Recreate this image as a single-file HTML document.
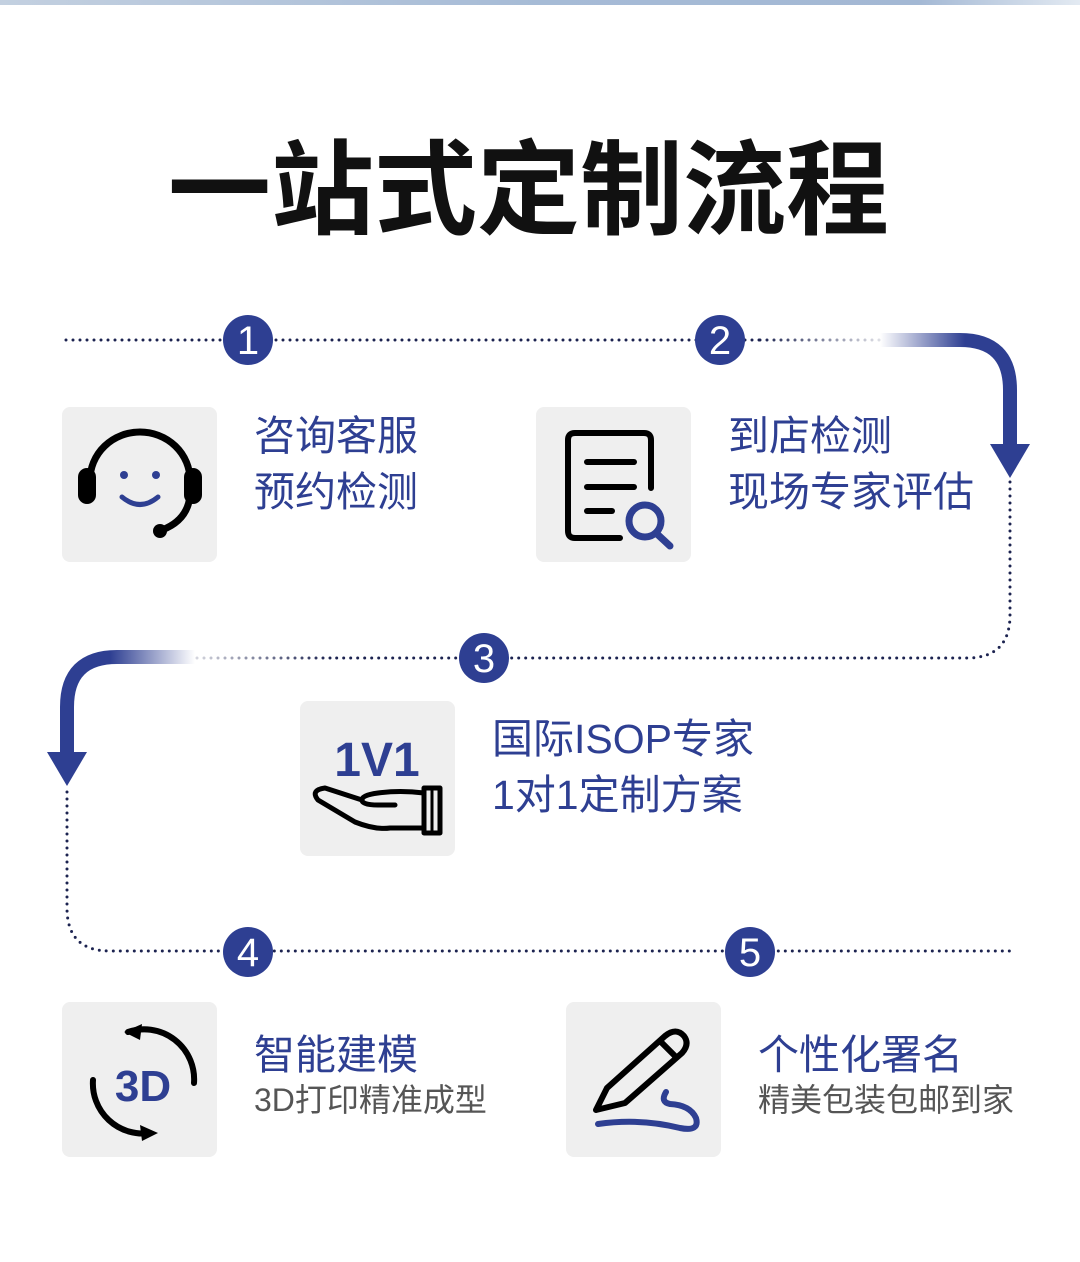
<!DOCTYPE html>
<html><head><meta charset="utf-8"><style>
html,body{margin:0;padding:0;background:#fff;}
body{width:1080px;height:1262px;position:relative;overflow:hidden;font-family:"Liberation Sans","Noto Sans CJK SC",sans-serif;}
.t{position:absolute;color:#2e3f92;font-size:41px;line-height:56px;white-space:nowrap;}
.g{color:#555;font-size:32px;line-height:40px;}
</style></head><body>
<svg width="1080" height="1262" style="position:absolute;left:0;top:0">
<defs>
<linearGradient id="tb" x1="0" x2="1"><stop offset="0" stop-color="#c3d0e0"/><stop offset="0.5" stop-color="#a6bbd6"/><stop offset="0.85" stop-color="#a3b8d4"/><stop offset="1" stop-color="#e3eaf2"/></linearGradient>
<linearGradient id="fr" gradientUnits="userSpaceOnUse" x1="880" x2="965" y1="0" y2="0"><stop offset="0" stop-color="#2e3f92" stop-opacity="0"/><stop offset="1" stop-color="#2e3f92"/></linearGradient>
<linearGradient id="fl" gradientUnits="userSpaceOnUse" x1="195" x2="110" y1="0" y2="0"><stop offset="0" stop-color="#2e3f92" stop-opacity="0"/><stop offset="1" stop-color="#2e3f92"/></linearGradient>
<linearGradient id="dr" gradientUnits="userSpaceOnUse" x1="760" x2="880" y1="0" y2="0"><stop offset="0" stop-color="#1c2350"/><stop offset="1" stop-color="#1c2350" stop-opacity="0.15"/></linearGradient>
<linearGradient id="dl" gradientUnits="userSpaceOnUse" x1="330" x2="190" y1="0" y2="0"><stop offset="0" stop-color="#1c2350"/><stop offset="1" stop-color="#1c2350" stop-opacity="0.15"/></linearGradient>
</defs>
<rect x="0" y="0" width="1080" height="5" fill="url(#tb)"/>
<g fill="none" stroke-width="3" stroke-linecap="round" stroke-dasharray="0 7">
<path d="M66 340 H760" stroke="#1c2350"/>
<path d="M760 340 H880" stroke="url(#dr)"/>
<path d="M1010 482 V615 Q1010 658 967 658 H330" stroke="#1c2350"/>
<path d="M330 658 H190" stroke="url(#dl)"/>
<path d="M67 792 V908 Q67 951 110 951 H1010" stroke="#1c2350"/>
</g>
<path d="M880 340 H960 Q1010 340 1010 390 V446" fill="none" stroke="url(#fr)" stroke-width="14"/>
<path d="M1010 390 V446" stroke="#2e3f92" stroke-width="14"/>
<polygon points="990,444 1030,444 1010,478" fill="#2e3f92"/>
<path d="M195 657 H117 Q67 657 67 707 V754" fill="none" stroke="url(#fl)" stroke-width="14"/>
<path d="M67 707 V754" stroke="#2e3f92" stroke-width="14"/>
<polygon points="47,752 87,752 67,786" fill="#2e3f92"/>
<g fill="#2e3f92">
<circle cx="248" cy="340" r="25"/><circle cx="720" cy="340" r="25"/><circle cx="484" cy="658" r="25"/><circle cx="248" cy="952" r="25"/><circle cx="750" cy="952" r="25"/>
</g>
<g fill="#fff" font-family="Liberation Sans" font-size="40" text-anchor="middle">
<text x="248" y="354">1</text><text x="720" y="354">2</text><text x="484" y="672">3</text><text x="248" y="966">4</text><text x="750" y="966">5</text>
</g>
<g fill="#efefef">
<rect x="62" y="407" width="155" height="155" rx="8"/><rect x="536" y="407" width="155" height="155" rx="8"/><rect x="300" y="701" width="155" height="155" rx="8"/><rect x="62" y="1002" width="155" height="155" rx="8"/><rect x="566" y="1002" width="155" height="155" rx="8"/>
</g>
<g fill="none" stroke="#000" stroke-width="7" stroke-linecap="round">
<path d="M90 480 A50 48 0 0 1 190 480"/>
<path d="M190 495 Q188 520 162 530"/>
</g>
<rect x="78" y="468" width="18" height="36" rx="9" fill="#000"/>
<rect x="184" y="468" width="18" height="36" rx="9" fill="#000"/>
<circle cx="160" cy="531" r="7" fill="#000"/>
<circle cx="124" cy="475" r="4" fill="#2e3f92"/><circle cx="156" cy="475" r="4" fill="#2e3f92"/>
<path d="M122 497 Q140 512 158 497" fill="none" stroke="#2e3f92" stroke-width="5" stroke-linecap="round"/>
<g fill="none" stroke="#000" stroke-width="6" stroke-linecap="round">
<path d="M620 538 H575 Q568 538 568 531 V440 Q568 433 575 433 H644 Q651 433 651 440 V488"/>
<path d="M587 462 H634"/><path d="M587 487 H634"/><path d="M587 511 H612"/>
</g>
<circle cx="645" cy="521" r="16" fill="none" stroke="#2e3f92" stroke-width="7"/>
<path d="M656 533 L670 546" stroke="#2e3f92" stroke-width="7" stroke-linecap="round"/>
<text x="377" y="776" text-anchor="middle" fill="#2e3f92" font-family="Liberation Sans" font-weight="bold" font-size="48">1V1</text>
<g fill="none" stroke="#000" stroke-width="5" stroke-linejoin="round" stroke-linecap="round">
<path d="M424 793 Q400 790 378 793 Q362 795 362 800 Q362 805 378 805 H395 M424 828 H390 Q375 830 355 822 L318 800 Q310 790 325 788 L362 800"/>
<rect x="424" y="788" width="16" height="45"/>
<path d="M432 788 V833" stroke-width="3"/>
</g>
<g fill="none" stroke="#000" stroke-width="6" stroke-linecap="round">
<path d="M128 1032 A50 50 0 0 1 194 1083"/>
<path d="M93 1080 A50 50 0 0 0 150 1133"/>
</g>
<polygon points="124,1032 142,1024 140,1040" fill="#000"/>
<polygon points="158,1133 140,1125 142,1141" fill="#000"/>
<text x="143" y="1101" text-anchor="middle" fill="#2e3f92" font-family="Liberation Sans" font-weight="bold" font-size="44">3D</text>
<g fill="none" stroke="#000" stroke-width="6" stroke-linejoin="round" stroke-linecap="round">
<path d="M596 1110 L607 1088 L665 1036 Q676 1027 684 1036 Q690 1044 682 1053 L625 1103 Z"/>
<path d="M660 1041 L676 1057"/>
</g>
<path d="M598 1124 Q640 1118 680 1128 Q700 1132 696 1118 Q690 1105 670 1104 Q660 1102 666 1092" fill="none" stroke="#2e3f92" stroke-width="6" stroke-linecap="round"/>
</svg>
<div style="position:absolute;left:168px;top:122px;font-size:103px;line-height:120px;font-weight:bold;color:#111;white-space:nowrap;font-family:'Noto Sans CJK SC',sans-serif">一站式定制流程</div>
<div class="t" style="left:254px;top:408px">咨询客服<br>预约检测</div>
<div class="t" style="left:728px;top:408px">到店检测<br>现场专家评估</div>
<div class="t" style="left:492px;top:711px">国际ISOP专家<br>1对1定制方案</div>
<div class="t" style="left:254px;top:1027px">智能建模</div>
<div class="t g" style="left:254px;top:1080px">3D打印精准成型</div>
<div class="t" style="left:758px;top:1027px">个性化署名</div>
<div class="t g" style="left:758px;top:1080px">精美包装包邮到家</div>
</body></html>
